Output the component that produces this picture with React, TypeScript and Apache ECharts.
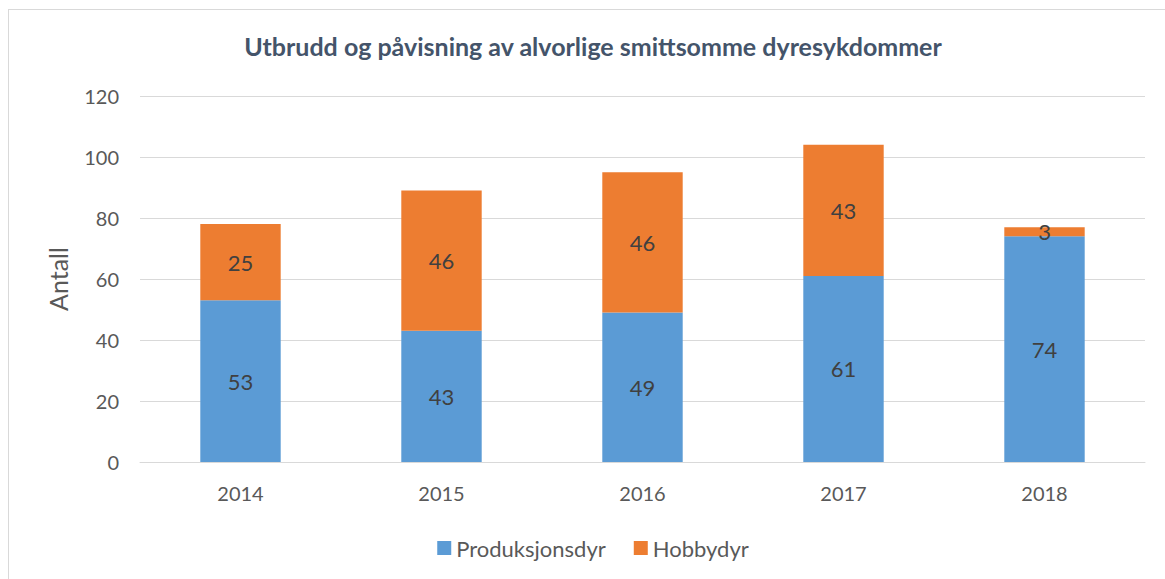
import React, { useEffect, useRef } from "react";
import * as echarts from "echarts";

const years = ["2014", "2015", "2016", "2017", "2018"];
const produksjonsdyr = [53, 43, 49, 61, 74];
const hobbydyr = [25, 46, 46, 43, 3];
const seriesNames = ["Produksjonsdyr", "Hobbydyr"];
const titleText = "Utbrudd og påvisning av alvorlige smittsomme dyresykdommer";
const yAxisName = "Antall";

const FONT = "Lato, 'Noto Sans', sans-serif";

export default function App() {
  const ref = useRef<HTMLDivElement>(null);
  useEffect(() => {
    if (!ref.current) return;
    const chart = echarts.init(ref.current, null, { renderer: "svg" });
    const label = {
      show: true,
      position: "inside",
      color: "#404040",
      fontSize: 22,
      fontFamily: FONT,
    };
    chart.setOption({
      animation: false,
      textStyle: { fontFamily: FONT },
      title: {
        text: titleText,
        left: "center",
        top: 18,
        textStyle: { color: "#44546A", fontSize: 25, fontWeight: "bold", fontFamily: FONT },
      },
      legend: {
        bottom: 34,
        left: "center",
        itemWidth: 14,
        itemHeight: 14,
        itemGap: 28,
        icon: "rect",
        textStyle: { color: "#595959", fontSize: 22, fontFamily: FONT },
        data: seriesNames,
      },
      grid: { left: 131, right: 32, top: 86, bottom: 136, containLabel: false },
      xAxis: {
        type: "category",
        data: years,
        axisLine: { show: true, lineStyle: { color: "#d9d9d9", width: 1 } },
        axisTick: { show: false },
        axisLabel: { color: "#595959", fontSize: 20, margin: 21, fontFamily: FONT },
      },
      yAxis: {
        type: "value",
        min: 0,
        max: 120,
        interval: 20,
        name: yAxisName,
        nameLocation: "middle",
        nameGap: 70,
        nameRotate: 90,
        nameTextStyle: { color: "#595959", fontSize: 25, fontFamily: FONT },
        axisLine: { show: false },
        axisTick: { show: false },
        axisLabel: { color: "#595959", fontSize: 20, margin: 21, fontFamily: FONT },
        splitLine: { lineStyle: { color: "#d9d9d9", width: 1 } },
      },
      series: [
        {
          name: seriesNames[0],
          type: "bar",
          stack: "total",
          barWidth: "40%",
          data: produksjonsdyr,
          itemStyle: { color: "#5B9BD5" },
          label,
        },
        {
          name: seriesNames[1],
          type: "bar",
          stack: "total",
          barWidth: "40%",
          data: hobbydyr,
          itemStyle: { color: "#ED7D31" },
          label,
        },
      ],
    });
    return () => chart.dispose();
  }, []);
  return (
    <div style={{ position: "fixed", left: 0, top: 0, width: 1165, height: 579, overflow: "hidden", background: "#fff" }}>
      <div
        ref={ref}
        style={{
          position: "absolute",
          left: 8,
          top: 9,
          width: 1170,
          height: 590,
          border: "1px solid #d9d9d9",
          boxSizing: "border-box",
        }}
      />
    </div>
  );
}
